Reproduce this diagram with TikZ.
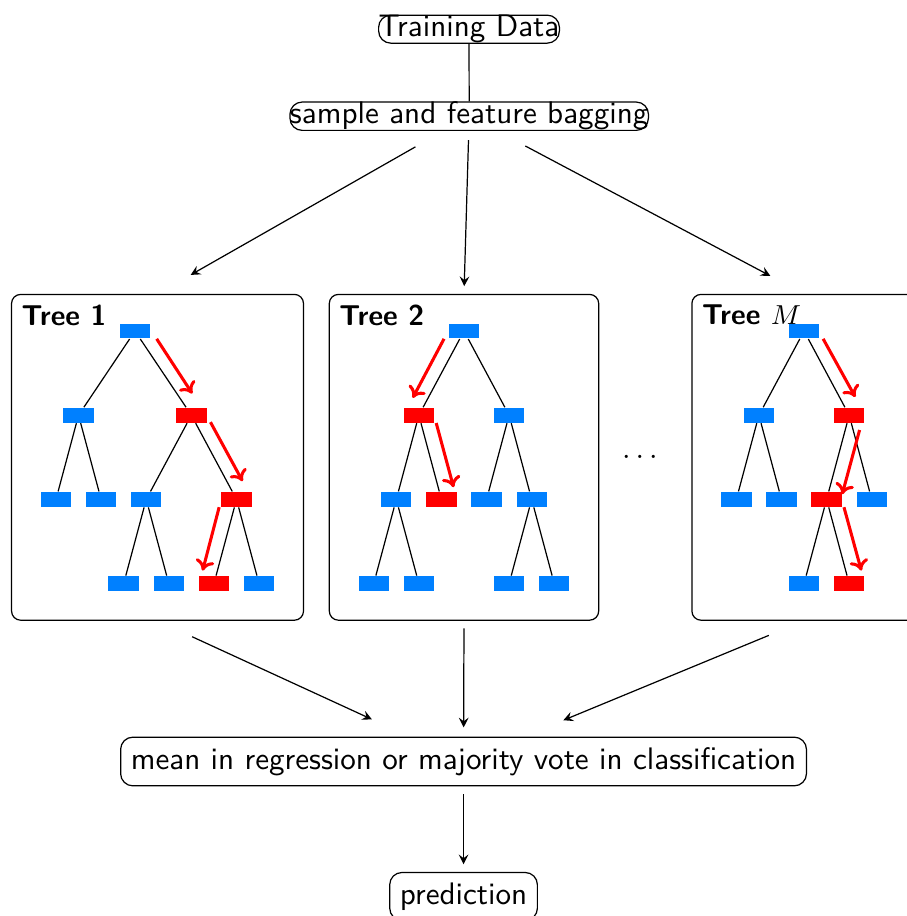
\documentclass[tikz,border=0pt]{standalone}
\usepackage{amsmath}
\usetikzlibrary{arrows,arrows.meta,fit}
\definecolor{leafblue}{RGB}{0,128,255}

\begin{document}
\begin{tikzpicture}[>=stealth, font=\sffamily\fontsize{10.2pt}{12pt}\selectfont,
	tn/.style={fill=leafblue, minimum width=0.35cm, minimum height=0.17cm, inner sep=0pt},
	hit/.style={tn, fill=red},
	walk/.style={red, line width=1pt, -{To[length=3.5pt, width=6.2pt]}},
	box/.style={draw, rounded corners},
	tbox/.style={draw, rounded corners=3pt, inner sep=0.33cm},
	tlabel/.style={anchor=north west, font=\sffamily\bfseries\fontsize{9.4pt}{11pt}\selectfont}]

	% The page
	\useasboundingbox (0,0) rectangle (10.45,10.554);
	\clip (0,0) rectangle (10.45,10.554);

	% The data and the bagging step
	\node[box, inner sep=0pt] (data) at (5.404,10.218) {Training Data};
	\node[box, inner sep=0pt] (bag) at (5.406,9.215) {sample and feature bagging};
	\draw (data) -- (bag);

	% Tree 1
	\begin{scope}[shift={(1.555,6.740)}]
		\node[tn]  (t1)    at ( 0.00, 0.00) {};
		\node[tn]  (t1l)   at (-0.65,-0.97) {};
		\node[hit] (t1r)   at ( 0.65,-0.97) {};
		\node[tn]  (t1ll)  at (-0.91,-1.94) {};
		\node[tn]  (t1lr)  at (-0.39,-1.94) {};
		\node[tn]  (t1rl)  at ( 0.13,-1.94) {};
		\node[hit] (t1rr)  at ( 1.17,-1.94) {};
		\node[tn]  (t1rll) at (-0.13,-2.91) {};
		\node[tn]  (t1rlr) at ( 0.39,-2.91) {};
		\node[hit] (t1rrl) at ( 0.91,-2.91) {};
		\node[tn]  (t1rrr) at ( 1.43,-2.91) {};
		\draw (t1) -- (t1l) (t1) -- (t1r)
			(t1l) -- (t1ll) (t1l) -- (t1lr)
			(t1r) -- (t1rl) (t1r) -- (t1rr)
			(t1rl) -- (t1rll) (t1rl) -- (t1rlr)
			(t1rr) -- (t1rrl) (t1rr) -- (t1rrr);
		% The path of the sample
		\draw[walk] ([shift={(0.25,-0.09)}]t1.center) -- ([shift={(0.01,0.25)}]t1r.center);
		\draw[walk] ([shift={(0.22,-0.08)}]t1r.center) -- ([shift={(0.07,0.21)}]t1rr.center);
		\draw[walk] ([shift={(-0.20,-0.09)}]t1rr.center) -- ([shift={(-0.13,0.15)}]t1rrl.center);
	\end{scope}
	\node[tbox, fit=(t1)(t1ll)(t1rrr)] (tree1) {};
	\node[tlabel] (lab1) at (tree1.north west) {Tree 1};

	% Tree 2
	\begin{scope}[shift={(5.346,6.740)}]
		\node[tn]  (t2)    at ( 0.00, 0.00) {};
		\node[hit] (t2l)   at (-0.52,-0.97) {};
		\node[tn]  (t2r)   at ( 0.52,-0.97) {};
		\node[tn]  (t2ll)  at (-0.78,-1.94) {};
		\node[hit] (t2lr)  at (-0.26,-1.94) {};
		\node[tn]  (t2rl)  at ( 0.26,-1.94) {};
		\node[tn]  (t2rr)  at ( 0.78,-1.94) {};
		\node[tn]  (t2lll) at (-1.04,-2.91) {};
		\node[tn]  (t2llr) at (-0.52,-2.91) {};
		\node[tn]  (t2rrl) at ( 0.52,-2.91) {};
		\node[tn]  (t2rrr) at ( 1.04,-2.91) {};
		\draw (t2) -- (t2l) (t2) -- (t2r)
			(t2l) -- (t2ll) (t2l) -- (t2lr)
			(t2r) -- (t2rl) (t2r) -- (t2rr)
			(t2ll) -- (t2lll) (t2ll) -- (t2llr)
			(t2rr) -- (t2rrl) (t2rr) -- (t2rrr);
		% The path of the sample
		\draw[walk] ([shift={(-0.23,-0.09)}]t2.center) -- ([shift={(-0.07,0.20)}]t2l.center);
		\draw[walk] ([shift={(0.20,-0.09)}]t2l.center) -- ([shift={(0.14,0.14)}]t2lr.center);
	\end{scope}
	\node[tbox, fit=(t2)(t2lll)(t2rrr)] (tree2) {};
	\node[tlabel] (lab2) at (tree2.north west) {Tree 2};

	% The trees in between
	\node (dots) at (7.403,5.289) {$\dots$};

	% Tree M
	\begin{scope}[shift={(9.264,6.740)}]
		\node[tn]  (tm)    at ( 0.00, 0.00) {};
		\node[tn]  (tml)   at (-0.52,-0.97) {};
		\node[hit] (tmr)   at ( 0.52,-0.97) {};
		\node[tn]  (tmll)  at (-0.78,-1.94) {};
		\node[tn]  (tmlr)  at (-0.26,-1.94) {};
		\node[hit] (tmrl)  at ( 0.26,-1.94) {};
		\node[tn]  (tmrr)  at ( 0.78,-1.94) {};
		\node[tn]  (tmrll) at ( 0.00,-2.91) {};
		\node[hit] (tmrlr) at ( 0.52,-2.91) {};
		\draw (tm) -- (tml) (tm) -- (tmr)
			(tml) -- (tmll) (tml) -- (tmlr)
			(tmr) -- (tmrl) (tmr) -- (tmrr)
			(tmrl) -- (tmrll) (tmrl) -- (tmrlr);
		% The path of the sample
		\draw[walk] ([shift={(0.22,-0.09)}]tm.center) -- ([shift={(0.07,0.21)}]tmr.center);
		\draw[walk] ([shift={(0.12,-0.17)}]tmr.center) -- ([shift={(0.18,0.06)}]tmrl.center);
		\draw[walk] ([shift={(0.20,-0.09)}]tmrl.center) -- ([shift={(0.14,0.15)}]tmrlr.center);
	\end{scope}
	\node[tbox, fit=(tm)(tmll)(tmrr)(tmrll)] (treeM) {};
	\node[tlabel] (labM) at (treeM.north west) {Tree $M$};

	% Bagging feeds the trees
	\draw[->, shorten <=10.5pt, shorten >=12.5pt] (bag) -- (tree1.north);
	\draw[->, shorten <=3pt, shorten >=2.5pt] (bag) -- (tree2.north);
	\draw[->, shorten <=10.5pt, shorten >=12.5pt] (bag) -- (treeM.north);

	% Aggregation
	\node[box] (vote) at (5.341,1.780) {mean in regression or majority vote in classification};
	\node[box] (pred) at (5.341,0.225) {prediction};
	\draw[->, shorten <=12.5pt, shorten >=13.5pt] (tree1.south) -- (vote);
	\draw[->, shorten <=2.5pt, shorten >=3pt] (tree2.south) -- (vote);
	\draw[->, shorten <=12.5pt, shorten >=14pt] (treeM.south) -- (vote);
	\draw[->, shorten <=2.5pt, shorten >=2.5pt] (vote) -- (pred);
\end{tikzpicture}
\end{document}
